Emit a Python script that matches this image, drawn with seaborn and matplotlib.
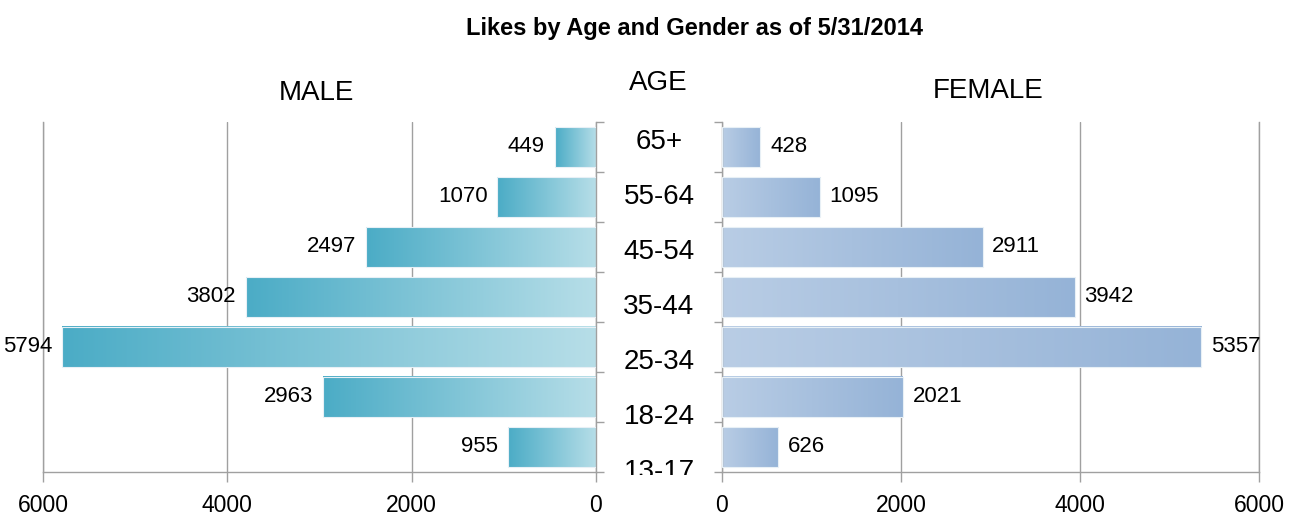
import numpy as np
import pandas as pd
import matplotlib
matplotlib.use("Agg")
import matplotlib.pyplot as plt
from matplotlib.colors import LinearSegmentedColormap
import seaborn as sns

# Likes per age bracket, top to bottom
ages = ["65+", "55-64", "45-54", "35-44", "25-34", "18-24", "13-17"]
male = [449, 1070, 2497, 3802, 5794, 2963, 955]
female = [428, 1095, 2911, 3942, 5357, 2021, 626]
xticks = [0, 2000, 4000, 6000]

sns.set_theme(style="white")
plt.rcParams["font.family"] = ["Liberation Sans", "DejaVu Sans"]
plt.rcParams["text.color"] = "black"
plt.rcParams["xtick.labelcolor"] = "black"

GRID = "#A0A0A0"
W, H = 1292, 518
fig = plt.figure(figsize=(W / 100, H / 100), dpi=100)


def px_axes(x0, x1, y0, y1):
    return fig.add_axes([x0 / W, 1 - y1 / H, (x1 - x0) / W, (y1 - y0) / H])


ax_m = px_axes(43, 596, 122, 472)
ax_f = px_axes(722, 1259, 122, 472)
ax_a = px_axes(596, 722, 114.5, 475)

df = pd.DataFrame({"age": ages, "male": male, "female": female})

male_cmap = LinearSegmentedColormap.from_list("male", ["#B7DEE8", "#4BACC6"])
female_cmap = LinearSegmentedColormap.from_list("female", ["#B9CDE5", "#95B3D7"])


def gradient_bars(ax, cmap):
    grad = np.linspace(0, 1, 256).reshape(1, -1)
    for p in ax.patches:
        x0, y0 = p.get_x(), p.get_y()
        w, h = p.get_width(), p.get_height()
        ax.imshow(grad, extent=(x0, x0 + w, y0 + h, y0), aspect="auto",
                  cmap=cmap, interpolation="bicubic", zorder=2)
        p.set_facecolor("none")
        p.set_edgecolor("#E8F0F6")
        p.set_linewidth(0.8)
        p.set_zorder(3)


sns.barplot(data=df, x="male", y="age", order=ages, orient="h",
            color="#4BACC6", width=0.8, ax=ax_m)
sns.barplot(data=df, x="female", y="age", order=ages, orient="h",
            color="#95B3D7", width=0.8, ax=ax_f)
gradient_bars(ax_m, male_cmap)
gradient_bars(ax_f, female_cmap)

for ax, vals, side in ((ax_m, male, -1), (ax_f, female, 1)):
    ax.set_xlim(0, 6000)
    ax.set_ylim(len(ages) - 0.5, -0.5)
    ax.set_xticks(xticks)
    ax.set_xticklabels([str(t) for t in xticks])
    ax.set_yticks(np.arange(len(ages) + 1) - 0.5)
    ax.set_yticklabels([])
    ax.set_xlabel("")
    ax.set_ylabel("")
    ax.grid(axis="x", color=GRID, linewidth=1.0, zorder=0)
    ax.grid(axis="y", visible=False)
    ax.set_axisbelow(True)
    ax.tick_params(axis="x", direction="out", length=7, width=1, color=GRID,
                   labelsize=16.5, pad=9, bottom=True)
    for s in ax.spines.values():
        s.set_color(GRID)
        s.set_linewidth(1.0)
    ax.spines["top"].set_visible(False)
    for i, v in enumerate(vals):
        ax.annotate(str(v), xy=(v, i), xytext=(side * 7, 0),
                    textcoords="offset points", va="center",
                    ha="right" if side < 0 else "left", fontsize=16,
                    color="black", annotation_clip=False)

# male side mirrors toward the centre
ax_m.invert_xaxis()
ax_m.yaxis.tick_right()
ax_m.tick_params(axis="y", direction="out", length=6, width=1, color=GRID,
                 right=True, left=False)
ax_f.tick_params(axis="y", direction="out", length=6, width=1, color=GRID,
                 left=True, right=False)

# centre column of age labels
ax_a.set_xlim(0, 1)
ax_a.set_ylim(6.055, -0.5)
ax_a.axis("off")
for i, a in enumerate(ages):
    ax_a.text(0.5, i, a, ha="center", va="center", fontsize=20,
              color="black", clip_on=True)

fig.text(316 / W, 1 - 93 / H, "MALE", ha="center", va="center", fontsize=20)
fig.text(658 / W, 1 - 83 / H, "AGE", ha="center", va="center", fontsize=20)
fig.text(988 / W, 1 - 91 / H, "FEMALE", ha="center", va="center", fontsize=20)
fig.text(695 / W, 1 - 28 / H, "Likes by Age and Gender as of 5/31/2014",
         ha="center", va="center", fontsize=17, fontweight="bold")

fig.savefig("out.png", dpi=100, facecolor="white")
